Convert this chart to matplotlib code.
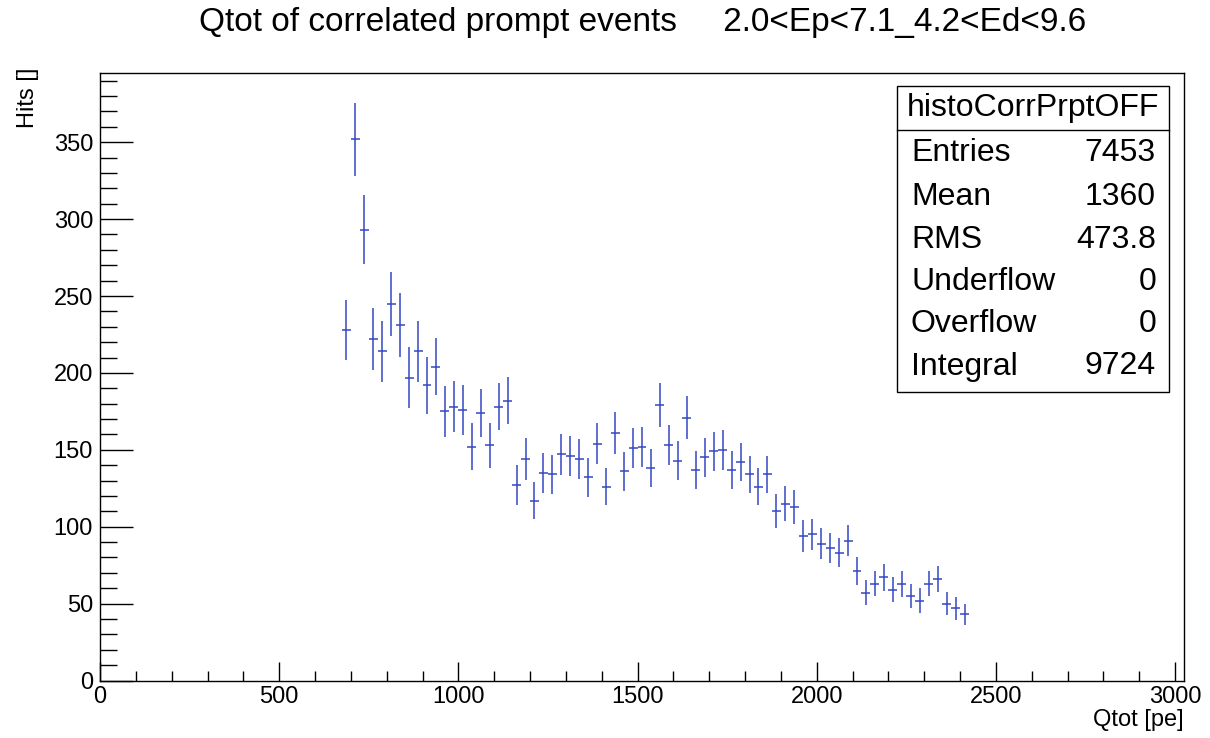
import matplotlib
matplotlib.use('Agg')
import matplotlib.pyplot as plt
from matplotlib.ticker import MultipleLocator
from matplotlib.patches import Rectangle
from matplotlib.lines import Line2D
import numpy as np

plt.rcParams['font.family'] = ['Liberation Sans', 'DejaVu Sans']

# ---- data ----
bin_width = 25
first_bin_low = 675
hits = [228, 352, 293, 222, 214, 245, 231, 197, 214, 192,
        204, 175, 178, 176, 152, 174, 153, 178, 182, 127,
        144, 117, 135, 134, 147, 146, 144, 132, 154, 126,
        161, 136, 151, 152, 138, 179, 153, 143, 171, 137,
        145, 149, 150, 137, 142, 134, 126, 134, 110, 115,
        113, 94, 95, 89, 86, 83, 91, 71, 57, 63,
        67, 59, 63, 55, 52, 63, 66, 50, 47, 43]
hit_errors = [19.3, 23.7, 22.4, 20.3, 19.9, 20.9, 20.8, 19.7, 19.6, 18.6,
              18.4, 16.8, 16.7, 16.3, 15.3, 15.7, 14.6, 15.4, 15.1, 12.8,
              13.4, 12.1, 13.1, 12.6, 13.1, 13.1, 12.9, 12.4, 13.5, 12.1,
              13.5, 12.7, 13.0, 13.1, 12.4, 14.2, 13.2, 12.6, 13.7, 12.3,
              12.5, 12.8, 12.9, 12.4, 12.2, 12.1, 11.9, 12.0, 11.1, 11.3,
              11.1, 10.3, 10.3, 10.3, 9.8, 9.5, 10.1, 9.0, 8.1, 8.3,
              8.8, 8.2, 8.5, 8.0, 7.9, 8.3, 8.7, 7.5, 7.4, 7.0]
stats_name = 'histoCorrPrptOFF'
stats_labels = ['Entries', 'Mean', 'RMS', 'Underflow', 'Overflow', 'Integral']
stats_values = ['7453', '1360', '473.8', '0', '0', '9724']
title = 'Qtot of correlated prompt events     2.0<Ep<7.1_4.2<Ed<9.6'
x_label = 'Qtot [pe]'
y_label = 'Hits []'

# ---- figure ----
W, H = 1210, 738
fig = plt.figure(figsize=(W / 100, H / 100), dpi=100)
fig.patch.set_facecolor('white')

def fx(px):
    return px / W

def fy(py):
    return 1 - py / H

ax_left, ax_right, ax_top, ax_bottom = 100, 1184, 73, 680.5
ax = fig.add_axes([fx(ax_left), fy(ax_bottom), fx(ax_right - ax_left), (ax_bottom - ax_top) / H])

centers = first_bin_low + bin_width * (np.arange(len(hits)) + 0.5)
ax.errorbar(centers, hits, xerr=bin_width / 2, yerr=hit_errors, fmt='none',
            ecolor='#3447c2', elinewidth=1.1, capsize=0)

ax.set_xlim(0, 3025)
ax.set_ylim(0, 395)
ax.xaxis.set_major_locator(MultipleLocator(500))
ax.xaxis.set_minor_locator(MultipleLocator(100))
ax.yaxis.set_major_locator(MultipleLocator(50))
ax.yaxis.set_minor_locator(MultipleLocator(10))

ax.tick_params(axis='both', which='both', direction='in', top=False, right=False,
               colors='black', labelsize=17, width=1)
ax.tick_params(axis='x', which='major', length=13.5, pad=4)
ax.tick_params(axis='x', which='minor', length=7.2)
ax.tick_params(axis='y', which='major', length=23.4, pad=5)
ax.tick_params(axis='y', which='minor', length=11.9)
for sp in ax.spines.values():
    sp.set_linewidth(1)
    sp.set_color('black')

# title and axis labels
fig.text(fx(643), fy(22), title, ha='center', va='center', fontsize=24)
fig.text(fx(1184), fy(720), x_label, ha='right', va='center', fontsize=17)
fig.text(fx(28), fy(68), y_label, ha='center', va='top', rotation=90, fontsize=17)

# stats box
bx0, bx1, by0, by1 = 897, 1168.5, 86, 391.5
fig.patches.append(Rectangle((fx(bx0), fy(by1)), fx(bx1 - bx0), (by1 - by0) / H,
                             transform=fig.transFigure, facecolor='white',
                             edgecolor='black', linewidth=1, zorder=5))
fig.lines.append(Line2D([fx(bx0), fx(bx1)], [fy(129.5), fy(129.5)],
                        transform=fig.transFigure, color='black', linewidth=1, zorder=6))
fig.text(fx((bx0 + bx1) / 2), fy(108), stats_name, ha='center', va='center',
         fontsize=23, zorder=7)
row_y = [153, 197, 240.5, 282.5, 324.5, 366.5]
for lab, val, yy in zip(stats_labels, stats_values, row_y):
    fig.text(fx(911), fy(yy), lab, ha='left', va='center', fontsize=23, zorder=7)
    fig.text(fx(1156), fy(yy), val, ha='right', va='center', fontsize=23, zorder=7)

fig.savefig('out.png', dpi=100, facecolor='white')
